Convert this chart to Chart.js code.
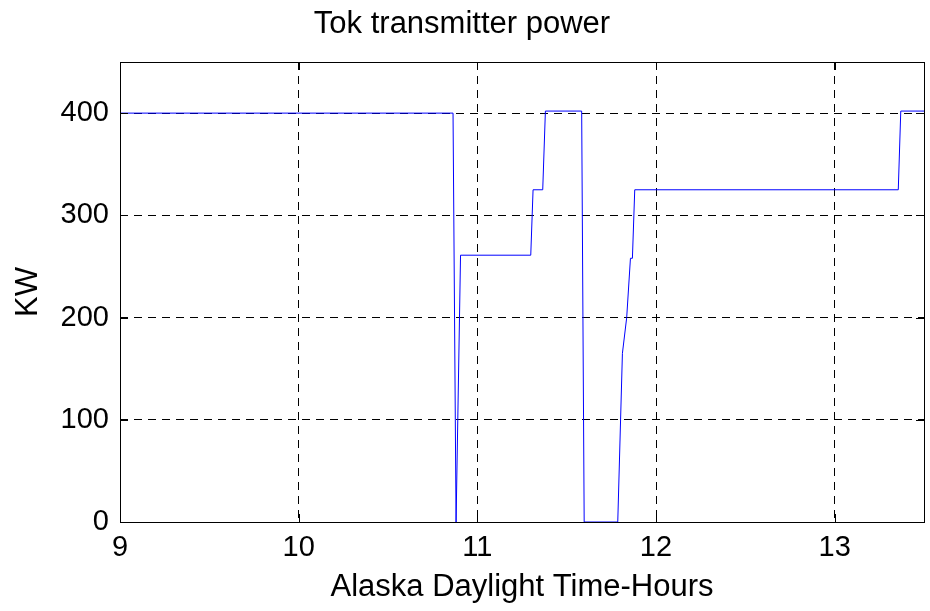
<!DOCTYPE html>
<html>
<head>
<meta charset="utf-8">
<title>Tok transmitter power</title>
<script src="https://cdn.jsdelivr.net/npm/chart.js@4"></script>
<style>
  html, body { margin: 0; padding: 0; background: #fff; }
  #wrap { width: 930px; height: 611px; }
</style>
</head>
<body>
<div id="wrap"><canvas id="powerChart" width="930" height="611"></canvas></div>
<script>
// Data
const hours = [9, 10.864, 10.881, 10.906, 11.299, 11.312, 11.366, 11.381, 11.584, 11.598, 11.786, 11.812, 11.836, 11.857, 11.868, 11.881, 13.356, 13.370, 13.5];
const kw    = [400, 400, 0, 261, 261, 325, 325, 402, 402, 0, 0, 165, 200, 258, 258, 325, 325, 402, 402];

const xTicks = [9, 10, 11, 12, 13];
const yTicks = [0, 100, 200, 300, 400];

const FONT = 'Liberation Sans, Arial, Helvetica, sans-serif';
const TICK_LEN = 8;

// box round the plot area plus inward ticks, matlab style
const framePlugin = {
    id: 'frame',
    afterDraw(chart) {
        const { ctx, chartArea: a, scales } = chart;
        ctx.save();
        ctx.strokeStyle = '#000';
        ctx.lineWidth = 1;
        ctx.beginPath();
        scales.x.ticks.forEach(t => {
            const px = Math.round(scales.x.getPixelForValue(t.value)) + 0.5;
            ctx.moveTo(px, a.bottom); ctx.lineTo(px, a.bottom - TICK_LEN);
            ctx.moveTo(px, a.top); ctx.lineTo(px, a.top + TICK_LEN);
        });
        scales.y.ticks.forEach(t => {
            const py = Math.round(scales.y.getPixelForValue(t.value)) + 0.5;
            ctx.moveTo(a.left, py); ctx.lineTo(a.left + TICK_LEN, py);
            ctx.moveTo(a.right, py); ctx.lineTo(a.right - TICK_LEN, py);
        });
        ctx.stroke();
        ctx.strokeRect(Math.round(a.left) + 0.5, Math.round(a.top) + 0.5,
            Math.round(a.right - a.left), Math.round(a.bottom - a.top));
        ctx.restore();
    }
};

const points = hours.map((h, i) => ({ x: h, y: kw[i] }));

new Chart(document.getElementById('powerChart'), {
    type: 'line',
    data: {
        datasets: [{
            label: 'Power',
            data: points,
            borderColor: '#0000ff',
            borderWidth: 1,
            pointRadius: 0,
            tension: 0,
            fill: false
        }]
    },
    options: {
        responsive: false,
        animation: false,
        layout: { padding: { left: 0, right: 6, top: 0, bottom: 0 } },
        plugins: {
            legend: { display: false },
            tooltip: { enabled: false },
            title: {
                display: true,
                text: 'Tok transmitter power',
                color: '#000',
                font: { family: FONT, size: 31, weight: 'normal', lineHeight: 1 },
                padding: { top: 9, bottom: 22 }
            }
        },
        scales: {
            x: {
                type: 'linear',
                min: 9,
                max: 13.5,
                afterBuildTicks: axis => { axis.ticks = xTicks.map(v => ({ value: v })); },
                afterFit: axis => { axis.height = 89; },
                grid: { color: '#000', lineWidth: 1, drawTicks: false, tickBorderDash: [8, 6] },
                border: { display: false, dash: [8, 6] },
                ticks: { color: '#000', padding: 11, maxRotation: 0, font: { family: FONT, size: 29, lineHeight: 1 } },
                title: {
                    display: true,
                    text: 'Alaska Daylight Time-Hours',
                    color: '#000',
                    font: { family: FONT, size: 31, lineHeight: 1 },
                    padding: { top: 0, bottom: 8 }
                }
            },
            y: {
                min: 0,
                max: 450,
                afterBuildTicks: axis => { axis.ticks = yTicks.map(v => ({ value: v })); },
                afterFit: axis => { axis.width = 120; },
                grid: { color: '#000', lineWidth: 1, drawTicks: false },
                border: { display: false, dash: [8, 6] },
                ticks: { color: '#000', padding: 11, font: { family: FONT, size: 29, lineHeight: 1 } },
                title: {
                    display: true,
                    text: 'KW',
                    color: '#000',
                    font: { family: FONT, size: 31, lineHeight: 1 },
                    padding: { top: 13, bottom: 0 }
                }
            }
        }
    },
    plugins: [framePlugin]
});
</script>
</body>
</html>
